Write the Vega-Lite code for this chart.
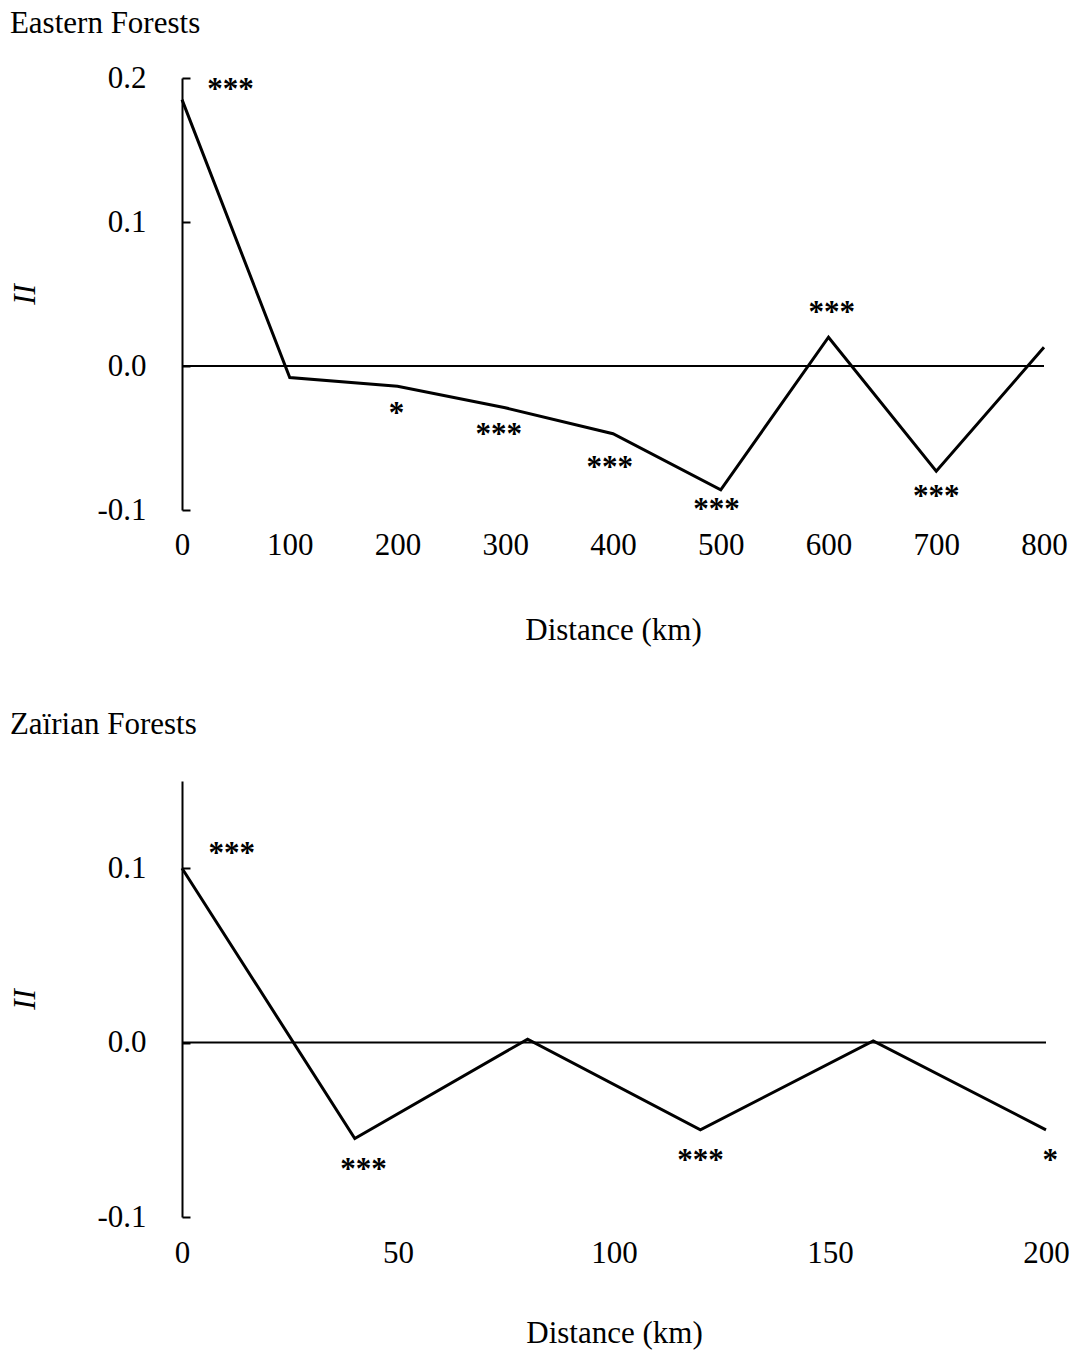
{
  "$schema": "https://vega.github.io/schema/vega-lite/v6.json",
  "background": "white",
  "padding": {"left": 9, "top": 8, "right": 0, "bottom": 5},
  "datasets": {
    "eastern": [
      {"distance": 0, "I": 0.185},
      {"distance": 100, "I": -0.008},
      {"distance": 200, "I": -0.014},
      {"distance": 300, "I": -0.029},
      {"distance": 400, "I": -0.047},
      {"distance": 500, "I": -0.086},
      {"distance": 600, "I": 0.02},
      {"distance": 700, "I": -0.073},
      {"distance": 800, "I": 0.013}
    ],
    "eastern_sig": [
      {"distance": 45, "I": 0.194, "sig": "***"},
      {"distance": 199, "I": -0.031, "sig": "*"},
      {"distance": 294, "I": -0.046, "sig": "***"},
      {"distance": 397, "I": -0.069, "sig": "***"},
      {"distance": 496, "I": -0.098, "sig": "***"},
      {"distance": 603, "I": 0.039, "sig": "***"},
      {"distance": 700, "I": -0.089, "sig": "***"}
    ],
    "eastern_zero": [{"distance": 0, "I": 0}, {"distance": 800, "I": 0}],
    "zairian": [
      {"distance": 0, "I": 0.1},
      {"distance": 40, "I": -0.055},
      {"distance": 80, "I": 0.002},
      {"distance": 120, "I": -0.05},
      {"distance": 160, "I": 0.001},
      {"distance": 200, "I": -0.05}
    ],
    "zairian_sig": [
      {"distance": 11.5, "I": 0.11, "sig": "***"},
      {"distance": 42, "I": -0.0715, "sig": "***"},
      {"distance": 120, "I": -0.066, "sig": "***"},
      {"distance": 201, "I": -0.066, "sig": "*"}
    ],
    "zairian_zero": [{"distance": 0, "I": 0}, {"distance": 200, "I": 0}]
  },
  "config": {
    "font": "Liberation Serif",
    "view": {"stroke": null},
    "axis": {
      "labelFont": "Liberation Serif",
      "titleFont": "Liberation Serif",
      "labelColor": "black",
      "titleColor": "black",
      "labelFontSize": 31,
      "titleFontSize": 31,
      "titleFontWeight": "normal",
      "grid": false,
      "domainColor": "black",
      "domainWidth": 2,
      "tickColor": "black",
      "tickWidth": 2
    },
    "title": {
      "font": "Liberation Serif",
      "fontSize": 31,
      "fontWeight": "normal",
      "anchor": "start",
      "frame": "bounds",
      "color": "black"
    },
    "concat": {"spacing": 64}
  },
  "vconcat": [
    {
      "title": {"text": "Eastern Forests", "offset": 22},
      "width": 862,
      "height": 432,
      "encoding": {
        "x": {
          "field": "distance",
          "type": "quantitative",
          "scale": {"domain": [0, 800], "nice": false},
          "axis": {
            "values": [0, 100, 200, 300, 400, 500, 600, 700, 800],
            "ticks": false,
            "domain": false,
            "labelPadding": 20,
            "titlePadding": 55,
            "labelFlush": false,
            "title": "Distance (km)"
          }
        },
        "y": {
          "field": "I",
          "type": "quantitative",
          "scale": {"domain": [-0.1, 0.2], "nice": false, "zero": false},
          "axis": {
            "values": [-0.1, 0, 0.1, 0.2],
            "labelExpr": "datum.value < 0 ? '-' + format(-datum.value, '.1f') : format(datum.value, '.1f')",
            "tickSize": -8,
            "labelPadding": 44,
            "title": "II",
            "titleFontStyle": "italic",
            "titlePadding": 55
          }
        }
      },
      "layer": [
        {
          "data": {"name": "eastern_zero"},
          "mark": {"type": "line", "color": "black", "strokeWidth": 2}
        },
        {
          "data": {"name": "eastern"},
          "mark": {"type": "line", "color": "black", "strokeWidth": 3}
        },
        {
          "data": {"name": "eastern_sig"},
          "mark": {"type": "text", "fontSize": 31, "fontWeight": "bold", "baseline": "alphabetic", "align": "center", "dy": 12, "color": "black", "font": "Liberation Serif"},
          "encoding": {"text": {"field": "sig"}}
        }
      ]
    },
    {
      "title": {"text": "Zaïrian Forests", "offset": 40},
      "width": 864,
      "height": 436,
      "encoding": {
        "x": {
          "field": "distance",
          "type": "quantitative",
          "scale": {"domain": [0, 200], "nice": false},
          "axis": {
            "values": [0, 50, 100, 150, 200],
            "ticks": false,
            "domain": false,
            "labelPadding": 21,
            "titlePadding": 50,
            "labelFlush": false,
            "title": "Distance (km)"
          }
        },
        "y": {
          "field": "I",
          "type": "quantitative",
          "scale": {"domain": [-0.1, 0.15], "nice": false, "zero": false},
          "axis": {
            "values": [-0.1, 0, 0.1],
            "labelExpr": "datum.value < 0 ? '-' + format(-datum.value, '.1f') : format(datum.value, '.1f')",
            "tickSize": -8,
            "labelPadding": 44,
            "title": "II",
            "titleFontStyle": "italic",
            "titlePadding": 55
          }
        }
      },
      "layer": [
        {
          "data": {"name": "zairian_zero"},
          "mark": {"type": "line", "color": "black", "strokeWidth": 2}
        },
        {
          "data": {"name": "zairian"},
          "mark": {"type": "line", "color": "black", "strokeWidth": 3}
        },
        {
          "data": {"name": "zairian_sig"},
          "mark": {"type": "text", "fontSize": 31, "fontWeight": "bold", "baseline": "alphabetic", "align": "center", "dy": 12, "color": "black", "font": "Liberation Serif"},
          "encoding": {"text": {"field": "sig"}}
        }
      ]
    }
  ]
}
